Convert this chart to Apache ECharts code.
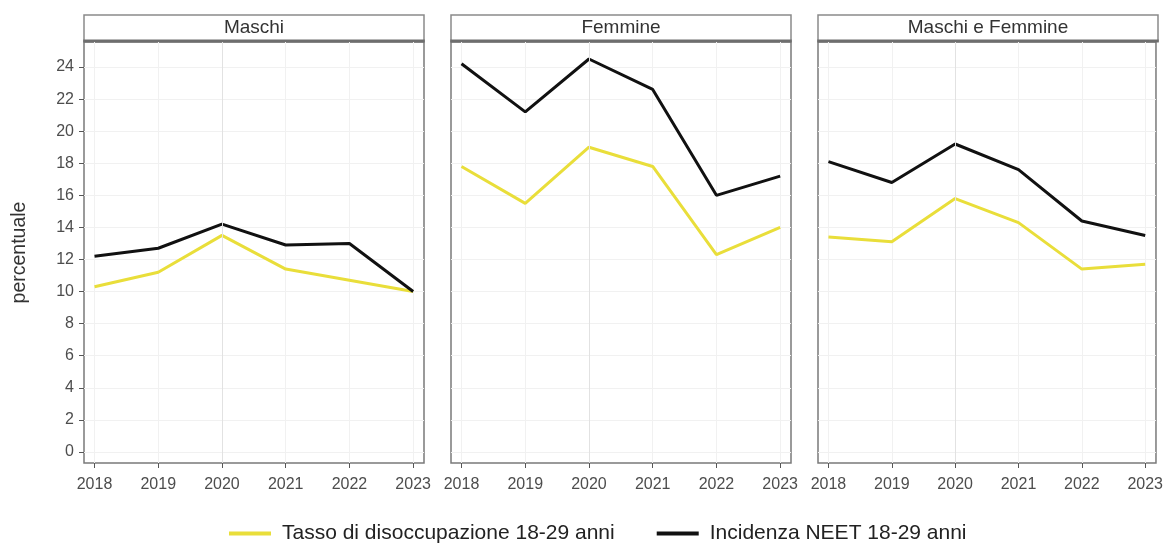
<!DOCTYPE html>
<html>
<head>
<meta charset="utf-8">
<script src="https://cdn.jsdelivr.net/npm/echarts@6/dist/echarts.min.js"></script>
<style>
html,body{margin:0;padding:0;background:#fff;}
#main{width:1166px;height:546px;}
</style>
</head>
<body>
<div id="main"></div>
<script>
const years = [2018, 2019, 2020, 2021, 2022, 2023];
const panels = ['Maschi', 'Femmine', 'Maschi e Femmine'];
const seriesNames = ['Tasso di disoccupazione 18-29 anni', 'Incidenza NEET 18-29 anni'];
const yTicks = [0, 2, 4, 6, 8, 10, 12, 14, 16, 18, 20, 22, 24];

const disoccMaschi = [10.3, 11.2, 13.5, 11.4, 10.7, 10.0];
const neetMaschi = [12.2, 12.7, 14.2, 12.9, 13.0, 10.0];
const disoccFemmine = [17.8, 15.5, 19.0, 17.8, 12.3, 14.0];
const neetFemmine = [24.2, 21.2, 24.5, 22.6, 16.0, 17.2];
const disoccTotale = [13.4, 13.1, 15.8, 14.3, 11.4, 11.7];
const neetTotale = [18.1, 16.8, 19.2, 17.6, 14.4, 13.5];

const disoccByPanel = [disoccMaschi, disoccFemmine, disoccTotale];
const neetByPanel = [neetMaschi, neetFemmine, neetTotale];

const colors = ['#e9de3a', '#111111'];
const gridLefts = [84, 451, 818];
const gridWidth = 340;
const gridTop = 42;
const gridBottom = 83;
const font = 'Liberation Sans, Arial, sans-serif';

const grids = [], xAxes = [], yAxes = [], series = [], graphics = [];
panels.forEach((p, i) => {
  grids.push({left: gridLefts[i], top: gridTop, width: gridWidth, bottom: gridBottom,
    show: true, borderColor: '#7a7a7a', borderWidth: 1.5, backgroundColor: '#fff'});
  xAxes.push({type: 'value', gridIndex: i, min: 2017.835, max: 2023.17,
    axisLine: {show: false, onZero: false},
    axisTick: {show: true, inside: false, length: 5, lineStyle: {color: '#555'}, customValues: years},
    axisLabel: {customValues: years, color: '#4d4d4d', fontSize: 16, fontFamily: font, margin: 14,
      formatter: v => String(v)},
    splitLine: {show: true, lineStyle: {color: '#f1f1f1', width: 1}}});
  yAxes.push({type: 'value', gridIndex: i, min: -0.69, max: 25.56,
    axisLine: {show: false, onZero: false},
    axisTick: {show: i === 0, inside: false, length: 5, lineStyle: {color: '#555'}, customValues: yTicks},
    axisLabel: {show: i === 0, customValues: yTicks, color: '#4d4d4d', fontSize: 16, fontFamily: font, margin: 10},
    splitLine: {show: true, lineStyle: {color: '#f1f1f1', width: 1}},
    name: i === 0 ? 'percentuale' : '', nameLocation: 'middle', nameRotate: 90, nameGap: 54,
    nameTextStyle: {color: '#333', fontSize: 19.5, fontFamily: font}});
  series.push({name: seriesNames[0], type: 'line', xAxisIndex: i, yAxisIndex: i,
    data: years.map((y, k) => [y, disoccByPanel[i][k]]),
    showSymbol: false, symbol: 'none', lineStyle: {color: colors[0], width: 3}, itemStyle: {color: colors[0]},
    z: 3, silent: true,
    markLine: {silent: true, symbol: 'none', label: {show: false},
      lineStyle: {color: '#e2e2e2', width: 1, type: 'solid'}, data: [{xAxis: 2020}]}});
  series.push({name: seriesNames[1], type: 'line', xAxisIndex: i, yAxisIndex: i,
    data: years.map((y, k) => [y, neetByPanel[i][k]]),
    showSymbol: false, symbol: 'none', lineStyle: {color: colors[1], width: 3}, itemStyle: {color: colors[1]},
    z: 4, silent: true});
  graphics.push({type: 'rect', shape: {x: gridLefts[i], y: 15, width: gridWidth, height: 26},
    style: {fill: '#fff', stroke: '#8a8a8a', lineWidth: 1.5}});
  graphics.push({type: 'rect', shape: {x: gridLefts[i] - 0.75, y: 39.5, width: gridWidth + 1.5, height: 3},
    style: {fill: '#6e6e6e'}});
  graphics.push({type: 'text', x: gridLefts[i] + gridWidth / 2, y: 28,
    style: {text: p, fill: '#333', font: '19px ' + font, textAlign: 'center', textVerticalAlign: 'middle'}});
});

const chart = echarts.init(document.getElementById('main'), null, {renderer: 'canvas'});
chart.setOption({
  animation: false,
  backgroundColor: '#fff',
  grid: grids,
  xAxis: xAxes,
  yAxis: yAxes,
  legend: {bottom: -3, left: 224, itemWidth: 42, itemHeight: 4, itemGap: 42, icon: 'rect',
    data: seriesNames.map((n, k) => ({name: n, itemStyle: {color: colors[k]}})),
    textStyle: {color: '#222', fontSize: 21, fontFamily: font, padding: [0, 0, 0, 6]}},
  series: series,
  graphic: graphics
});
</script>
</body>
</html>
